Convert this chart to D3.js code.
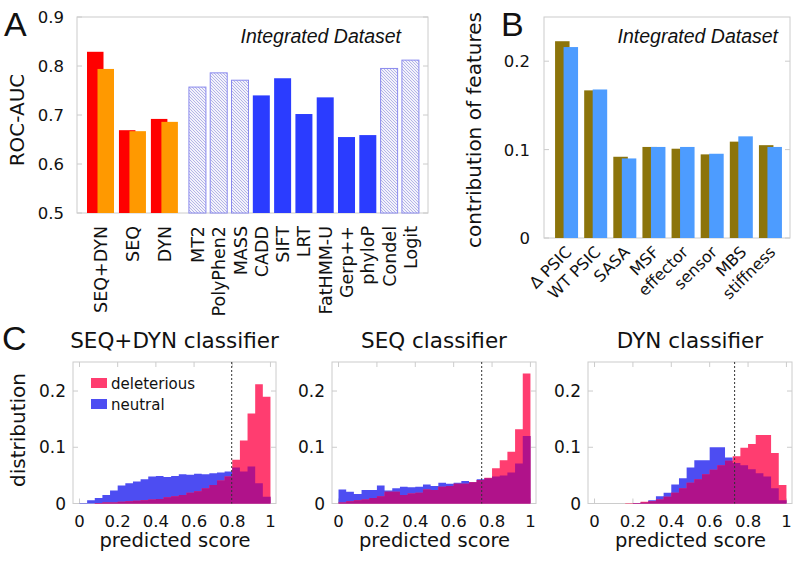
<!DOCTYPE html>
<html><head><meta charset="utf-8">
<script src="https://cdn.jsdelivr.net/npm/d3@7"></script>
<style>
html,body{margin:0;padding:0;background:#fff;}
svg{display:block;}
text{font-family:"DejaVu Sans",sans-serif;fill:#111;}
</style></head><body>
<svg id="c" width="796" height="562"></svg>
<script>
// ---------- DATA ----------
// Panel A
const ownClassifiers = ["SEQ+DYN", "SEQ", "DYN"];
const ownAucRed = [0.829, 0.669, 0.692];
const ownAucOrange = [0.794, 0.667, 0.686];
const tools = ["MT2", "PolyPhen2", "MASS", "CADD", "SIFT", "LRT", "FatHMM-U", "Gerp++", "phyloP", "Condel", "Logit"];
const toolAuc = [0.757, 0.786, 0.771, 0.740, 0.775, 0.702, 0.736, 0.655, 0.659, 0.795, 0.812];
const toolKind = ["meta", "meta", "meta", "single", "single", "single", "single", "single", "single", "meta", "meta"];
const aTicks = [0.5, 0.6, 0.7, 0.8, 0.9];
// Panel B
const features = ["\u0394 PSIC", "WT PSIC", "SASA", "MSF", "effector", "sensor", "MBS", "stiffness"];
const contribOlive = [0.2226, 0.167, 0.0919, 0.103, 0.101, 0.0946, 0.109, 0.105];
const contribBlue = [0.216, 0.168, 0.090, 0.103, 0.103, 0.0953, 0.115, 0.103];
const bTicks = [0, 0.1, 0.2];
// Panel C (25 bins of width 0.04 over [0,1])
const histTitles = ["SEQ+DYN classifier", "SEQ classifier", "DYN classifier"];
const thresholds = [0.797, 0.746, 0.73];
const neutralSeqDyn = [0.001, 0.006, 0.010, 0.015, 0.023, 0.032, 0.036, 0.039, 0.043, 0.048, 0.049, 0.047, 0.049, 0.052, 0.051, 0.053, 0.052, 0.054, 0.055, 0.057, 0.064, 0.057, 0.066, 0.036, 0.012];
const deleteriousSeqDyn = [0, 0, 0.001, 0.002, 0.002, 0.003, 0.004, 0.005, 0.006, 0.007, 0.008, 0.011, 0.013, 0.015, 0.019, 0.022, 0.027, 0.033, 0.041, 0.048, 0.078, 0.112, 0.160, 0.212, 0.190];
const neutralSeq = [0.025, 0.021, 0.017, 0.024, 0.024, 0.032, 0.023, 0.027, 0.030, 0.029, 0.030, 0.034, 0.031, 0.037, 0.035, 0.037, 0.040, 0.038, 0.043, 0.045, 0.048, 0.050, 0.055, 0.071, 0.120];
const deleteriousSeq = [0.002, 0.004, 0.006, 0.007, 0.010, 0.013, 0.021, 0.021, 0.015, 0.018, 0.019, 0.025, 0.024, 0.030, 0.031, 0.035, 0.035, 0.038, 0.042, 0.046, 0.0625, 0.077, 0.092, 0.132, 0.231];
const neutralDyn = [0, 0, 0, 0, 0, 0.001, 0.002, 0.006, 0.013, 0.019, 0.034, 0.045, 0.064, 0.077, 0.077, 0.100, 0.100, 0.082, 0.072, 0.068, 0.061, 0.054, 0.048, 0.027, 0.006];
const deleteriousDyn = [0, 0, 0, 0, 0.001, 0.001, 0.003, 0.004, 0.007, 0.012, 0.019, 0.027, 0.037, 0.043, 0.052, 0.060, 0.068, 0.076, 0.084, 0.099, 0.106, 0.122, 0.122, 0.090, 0.033];
const histNeutral = [neutralSeqDyn, neutralSeq, neutralDyn];
const histDeleterious = [deleteriousSeqDyn, deleteriousSeq, deleteriousDyn];
const cXTicks = [0, 0.2, 0.4, 0.6, 0.8, 1];
const cYTicks = [0, 0.1, 0.2];

// ---------- DRAW ----------
const svg = d3.select("#c");
const frameCol = "#cccccc";
const defs = svg.append("defs");
const pat = defs.append("pattern").attr("id", "hatch").attr("patternUnits", "userSpaceOnUse")
  .attr("width", 3).attr("height", 3);
pat.append("rect").attr("width", 3).attr("height", 3).attr("fill", "#f3f3fb");
pat.append("path").attr("d", "M0,0 L3,3 M-1,2 L1,4 M2,-1 L4,1")
  .attr("stroke", "#a3a3e2").attr("stroke-width", 0.8);

function panelLabel(t, x, y) {
  svg.append("text").attr("x", x).attr("y", y).text(t)
    .style("font-family", "'Liberation Sans', Arial, sans-serif").style("font-size", "34px");
}
function italicNote(x, y) {
  svg.append("text").attr("x", x).attr("y", y).attr("text-anchor", "end").text("Integrated Dataset")
    .style("font-family", "'Liberation Sans', Arial, sans-serif").style("font-style", "italic").style("font-size", "19.5px");
}

// ===== Panel A =====
{
  const L = 77, R = 428, T = 17, B = 213;
  const y = d3.scaleLinear().domain([0.5, 0.9]).range([B, T]);
  const g = svg.append("g");
  g.append("rect").attr("x", L).attr("y", T).attr("width", R - L).attr("height", B - T)
    .attr("fill", "none").attr("stroke", frameCol);
  aTicks.forEach(t => {
    g.append("line").attr("x1", L).attr("x2", L + 5).attr("y1", y(t)).attr("y2", y(t)).attr("stroke", frameCol);
    g.append("line").attr("x1", R - 5).attr("x2", R).attr("y1", y(t)).attr("y2", y(t)).attr("stroke", frameCol);
    g.append("text").attr("x", L - 13).attr("y", y(t)).attr("dy", "0.36em").attr("text-anchor", "end")
      .style("font-size", "16.5px").text(d3.format(".1f")(t));
  });
  // slot positions: own classifiers at 0,1.5,3 ; tools from 4.55 step 1
  const slots = ownClassifiers.map((d, i) => i * 1.5).concat(tools.map((d, i) => 4.55 + i));
  const sx = d3.scaleLinear().domain([0, 1]).range([100.5, 121.8]);
  const bw = 16.5, off = 5.25;
  ownClassifiers.forEach((c, i) => {
    const cx = sx(slots[i]);
    g.append("rect").attr("x", cx - off - bw / 2).attr("width", bw).attr("y", y(ownAucRed[i]))
      .attr("height", y(0.5) - y(ownAucRed[i])).attr("fill", "#ff0000");
    g.append("rect").attr("x", cx + off - bw / 2).attr("width", bw).attr("y", y(ownAucOrange[i]))
      .attr("height", y(0.5) - y(ownAucOrange[i])).attr("fill", "#ff9900");
  });
  tools.forEach((c, i) => {
    const cx = sx(slots[i + 3]);
    const meta = toolKind[i] === "meta";
    g.append("rect").attr("x", cx - 8.5).attr("width", 17).attr("y", y(toolAuc[i]))
      .attr("height", y(0.5) - y(toolAuc[i]))
      .attr("fill", meta ? "url(#hatch)" : "#2b3cff")
      .attr("stroke", meta ? "#8a8aee" : "none").attr("stroke-width", 1);
  });
  const labels = ownClassifiers.concat(tools);
  labels.forEach((c, i) => {
    g.append("text").attr("transform", `translate(${sx(slots[i]) + 6.5},226) rotate(-90)`)
      .attr("text-anchor", "end").style("font-size", "17.5px").text(c);
  });
  g.append("text").attr("transform", "translate(24,120) rotate(-90)").attr("text-anchor", "middle")
    .style("font-size", "20px").text("ROC-AUC");
  panelLabel("A", 4, 36);
  italicNote(401, 43);
}

// ===== Panel B =====
{
  const L = 544, R = 790, T = 17, B = 238;
  const y = d3.scaleLinear().domain([0, 0.25]).range([B, T]);
  const x = d3.scaleBand().domain(features).range([552, 785]);
  const g = svg.append("g");
  g.append("rect").attr("x", L).attr("y", T).attr("width", R - L).attr("height", B - T)
    .attr("fill", "none").attr("stroke", frameCol);
  bTicks.forEach(t => {
    g.append("line").attr("x1", L).attr("x2", L + 5).attr("y1", y(t)).attr("y2", y(t)).attr("stroke", frameCol);
    g.append("line").attr("x1", R - 5).attr("x2", R).attr("y1", y(t)).attr("y2", y(t)).attr("stroke", frameCol);
    g.append("text").attr("x", L - 14).attr("y", y(t)).attr("dy", "0.36em").attr("text-anchor", "end")
      .style("font-size", "16.5px").text(t === 0 ? "0" : d3.format(".1f")(t));
  });
  const bw = 14.5, off = 4.25;
  features.forEach((f, i) => {
    const cx = x(f) + x.bandwidth() / 2;
    g.append("rect").attr("x", cx - off - bw / 2).attr("width", bw).attr("y", y(contribOlive[i]))
      .attr("height", y(0) - y(contribOlive[i])).attr("fill", "#8c740b");
    g.append("rect").attr("x", cx + off - bw / 2).attr("width", bw).attr("y", y(contribBlue[i]))
      .attr("height", y(0) - y(contribBlue[i])).attr("fill", "#4d9cff");
    g.append("text").attr("transform", `translate(${cx + 6},253) rotate(-45)`)
      .attr("text-anchor", "end").style("font-size", "16px").text(f);
  });
  g.append("text").attr("transform", "translate(481,130) rotate(-90)").attr("text-anchor", "middle")
    .style("font-size", "20px").text("contribution of features");
  panelLabel("B", 501, 36);
  italicNote(778, 43);
}

// ===== Panel C =====
{
  const frames = [[73, 276], [332, 536], [588, 792]];
  const T = 362, B = 503.5;
  const y = d3.scaleLinear().domain([0, 0.2516]).range([B, T]);
  const nb = 25, bwid = 1 / nb;
  const cNeu = "#4d4df2", cDel = "#ff3d70", cBoth = "#b0128a";
  frames.forEach(([L, R], p) => {
    const x = d3.scaleLinear().domain([-0.034, 1.029]).range([L, R]);
    const g = svg.append("g");
    g.append("rect").attr("x", L).attr("y", T).attr("width", R - L).attr("height", B - T)
      .attr("fill", "none").attr("stroke", frameCol);
    cXTicks.forEach(t => {
      g.append("line").attr("x1", x(t)).attr("x2", x(t)).attr("y1", T).attr("y2", T + 5).attr("stroke", frameCol);
      g.append("line").attr("x1", x(t)).attr("x2", x(t)).attr("y1", B - 5).attr("y2", B).attr("stroke", frameCol);
      g.append("text").attr("x", x(t)).attr("y", 526.5).attr("text-anchor", "middle")
        .style("font-size", "16.5px").text(d3.format("~g")(t));
    });
    cYTicks.forEach(t => {
      g.append("line").attr("x1", L).attr("x2", L + 5).attr("y1", y(t)).attr("y2", y(t)).attr("stroke", frameCol);
      g.append("line").attr("x1", R - 5).attr("x2", R).attr("y1", y(t)).attr("y2", y(t)).attr("stroke", frameCol);
      g.append("text").attr("x", L - 7).attr("y", y(t)).attr("dy", "0.36em").attr("text-anchor", "end")
        .style("font-size", "17px").text(d3.format("~g")(t));
    });
    const neu = histNeutral[p], del = histDeleterious[p];
    const pts = arr => arr.map((v, i) => [i * bwid, v]).concat([[1, arr[arr.length - 1]]]);
    const area = d3.area().x(d => x(d[0])).y0(y(0)).y1(d => y(d[1])).curve(d3.curveStepAfter);
    g.append("path").attr("d", area(pts(neu))).attr("fill", cNeu);
    g.append("path").attr("d", area(pts(del))).attr("fill", cDel);
    g.append("path").attr("d", area(pts(neu.map((v, i) => Math.min(v, del[i]))))).attr("fill", cBoth);
    g.append("line").attr("x1", x(thresholds[p])).attr("x2", x(thresholds[p])).attr("y1", T).attr("y2", B)
      .attr("stroke", "#333").attr("stroke-width", 1).attr("stroke-dasharray", "2,2");
    g.append("text").attr("x", (L + R) / 2).attr("y", 348).attr("text-anchor", "middle")
      .style("font-size", "21.5px").text(histTitles[p]);
    g.append("text").attr("x", x(0.5)).attr("y", 547).attr("text-anchor", "middle")
      .style("font-size", "19.5px").text("predicted score");
    if (p === 0) {
      g.append("rect").attr("x", 91).attr("y", 378).attr("width", 16).attr("height", 10).attr("fill", cDel);
      g.append("rect").attr("x", 91).attr("y", 399).attr("width", 16).attr("height", 10).attr("fill", cNeu);
      g.append("text").attr("x", 111).attr("y", 388.5).style("font-size", "15px").text("deleterious");
      g.append("text").attr("x", 111).attr("y", 409.5).style("font-size", "15px").text("neutral");
    }
  });
  svg.append("text").attr("transform", "translate(25,430) rotate(-90)").attr("text-anchor", "middle")
    .style("font-size", "20px").text("distribution");
  panelLabel("C", 2, 350);
}
</script></body></html>
